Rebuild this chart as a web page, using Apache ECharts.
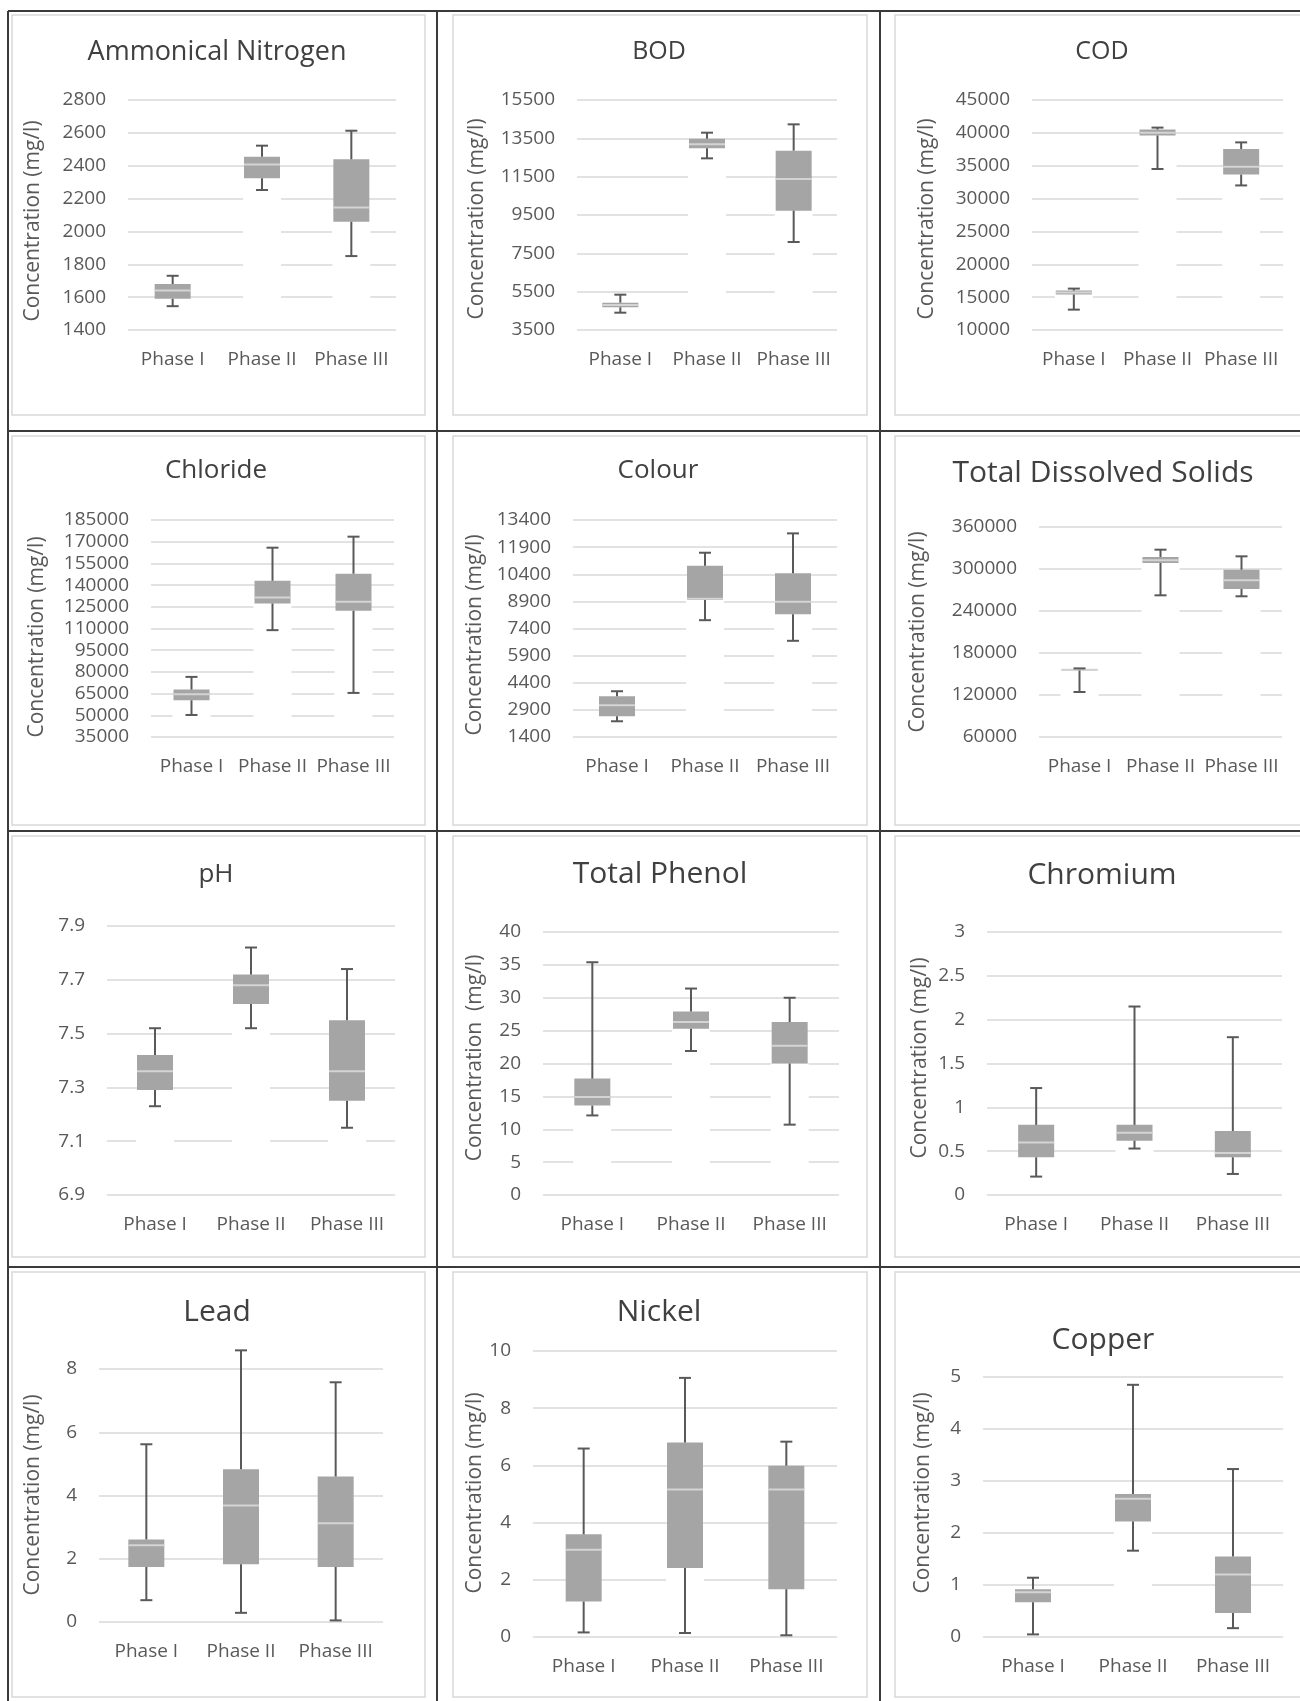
<!DOCTYPE html>
<html><head><meta charset="utf-8">
<script src="https://cdn.jsdelivr.net/npm/echarts@6/dist/echarts.min.js"></script>
<style>html,body{margin:0;padding:0;background:#fff}#chart{width:1300px;height:1701px}</style>
</head><body><div id="chart"></div>
<script>
// ---------------- DATA ----------------
const phases = ['Phase I', 'Phase II', 'Phase III'];
// each entry: [min, Q1, median, Q3, max] for Phase I, Phase II, Phase III
const ammonicalNitrogen = [[1545,1590,1640,1680,1730],[2252,2323,2408,2455,2522],[1850,2059,2145,2439,2613]];
const bod          = [[4404,4683,4804,4926,5343],[12456,12977,13186,13482,13795],[8091,9726,11378,12856,14230]];
const cod          = [[13100,15400,15700,16000,16300],[34500,39600,40000,40500,40800],[32000,33650,34850,37550,38550]];
const chloride     = [[50230,60390,64540,67770,76540],[108860,127320,131480,143000,165860],[65470,122250,128480,147860,173480]];
const colour       = [[2270,2545,3150,3650,3930],[7860,8970,9050,10870,11590],[6720,8190,8880,10450,12660]];
const tds          = [[124300,155000,156000,157000,158000],[262400,308600,312400,317200,327600],[261000,271400,283800,299000,318100]];
const ph           = [[7.23,7.29,7.36,7.42,7.52],[7.52,7.61,7.68,7.72,7.82],[7.15,7.25,7.36,7.55,7.74]];
const totalPhenol  = [[12.1,13.6,14.9,17.7,35.4],[21.9,25.3,26.3,27.9,31.4],[10.7,20.0,22.7,26.3,30.0]];
const chromium     = [[0.21,0.43,0.60,0.80,1.22],[0.53,0.62,0.71,0.80,2.15],[0.24,0.43,0.48,0.73,1.80]];
const lead         = [[0.69,1.74,2.43,2.61,5.62],[0.29,1.83,3.68,4.83,8.59],[0.05,1.74,3.12,4.60,7.58]];
const nickel       = [[0.16,1.24,3.05,3.59,6.59],[0.14,2.41,5.16,6.80,9.06],[0.06,1.67,5.16,5.99,6.83]];
const copper       = [[0.05,0.67,0.86,0.92,1.14],[1.66,2.22,2.66,2.75,4.85],[0.17,0.46,1.20,1.55,3.23]];

// y-axis ticks: [min, max, interval]
const ammonicalNitrogenTicks = [1400, 2800, 200];
const bodTicks         = [3500, 15500, 2000];
const codTicks         = [10000, 45000, 5000];
const chlorideTicks    = [35000, 185000, 15000];
const colourTicks      = [1400, 13400, 1500];
const tdsTicks         = [60000, 360000, 60000];
const phTicks          = [6.9, 7.9, 0.2];
const totalPhenolTicks = [0, 40, 5];
const chromiumTicks    = [0, 3, 0.5];
const leadTicks        = [0, 8, 2];
const nickelTicks      = [0, 10, 2];
const copperTicks      = [0, 5, 1];

const titles = ['Ammonical Nitrogen','BOD','COD','Chloride','Colour','Total Dissolved Solids','pH','Total Phenol','Chromium','Lead','Nickel','Copper'];
const yNames = ['Concentration (mg/l)','Concentration (mg/l)','Concentration (mg/l)','Concentration (mg/l)','Concentration (mg/l)','Concentration (mg/l)','','Concentration  (mg/l)','Concentration (mg/l)','Concentration (mg/l)','Concentration (mg/l)','Concentration (mg/l)'];

const seriesData = [ammonicalNitrogen,bod,cod,chloride,colour,tds,ph,totalPhenol,chromium,lead,nickel,copper];
const seriesTicks = [ammonicalNitrogenTicks,bodTicks,codTicks,chlorideTicks,colourTicks,tdsTicks,phTicks,totalPhenolTicks,chromiumTicks,leadTicks,nickelTicks,copperTicks];

// ---------------- LAYOUT ----------------
// grid: [left, top, width, height], title: [cx, cy, size], yName: [cx, cy]
const layout = [
  {grid:[128,100,268,230], title:[217,52,27], yName:[33,221]},
  {grid:[577,100,260,230], title:[659,52,25], yName:[477,219]},
  {grid:[1032,100,251,230], title:[1102,52,25], yName:[927,219]},
  {grid:[151,520,243,217], title:[216,471,26], yName:[37,637]},
  {grid:[573,520,264,217], title:[658,471,26], yName:[475,635]},
  {grid:[1039,527,243,210], title:[1103,473,30], yName:[918,632]},
  {grid:[107,926,288,269], title:[216,875,26], yName:[0,0]},
  {grid:[543,932,296,263], title:[660,874,30], yName:[475,1058]},
  {grid:[987,932,295,263], title:[1102,875,30], yName:[920,1058]},
  {grid:[99,1369,284,253], title:[217,1312,30], yName:[33,1495]},
  {grid:[533,1351,304,286], title:[659,1312,30], yName:[475,1493]},
  {grid:[983,1377,300,260], title:[1103,1340,30], yName:[923,1493]}
];

const FONT = '"Open Sans", "Noto Sans", sans-serif';
const LABEL_COLOR = '#595959';
const BOX_FILL = '#a5a5a5';
const MEDIAN_COLOR = '#d4d4d4';
const WHISKER_COLOR = '#595959';
const GRID_COLOR = '#d9d9d9';

function renderBox(params, api) {
  const idx = api.value(0);
  const cs = params.coordSys;
  const x = api.coord([idx, api.value(1)])[0];
  const yMin = api.coord([idx, api.value(1)])[1];
  const yQ1 = api.coord([idx, api.value(2)])[1];
  const yMed = api.coord([idx, api.value(3)])[1];
  const yQ3 = api.coord([idx, api.value(4)])[1];
  const yMax = api.coord([idx, api.value(5)])[1];
  const w = 36, cap = 12;
  const bottom = cs.y + cs.height - 1.5;
  const children = [];
  if (yQ1 < bottom) {
    children.push({type:'rect', shape:{x:x-w/2-1, y:yQ1, width:w+2, height:bottom-yQ1}, style:{fill:'#ffffff'}});
  }
  children.push({type:'rect', shape:{x:x-w/2, y:yMed, width:w, height:Math.max(yQ1-yMed,0.5)}, style:{fill:BOX_FILL}});
  children.push({type:'rect', shape:{x:x-w/2, y:yQ3, width:w, height:Math.max(yMed-yQ3,0.5)}, style:{fill:BOX_FILL}});
  children.push({type:'line', shape:{x1:x-w/2, y1:yMed, x2:x+w/2, y2:yMed}, style:{stroke:MEDIAN_COLOR, lineWidth:2}});
  // whiskers
  children.push({type:'line', shape:{x1:x, y1:yQ3, x2:x, y2:yMax}, style:{stroke:WHISKER_COLOR, lineWidth:2}});
  children.push({type:'line', shape:{x1:x-cap/2, y1:yMax, x2:x+cap/2, y2:yMax}, style:{stroke:WHISKER_COLOR, lineWidth:2}});
  children.push({type:'line', shape:{x1:x, y1:yQ1, x2:x, y2:yMin}, style:{stroke:WHISKER_COLOR, lineWidth:2}});
  children.push({type:'line', shape:{x1:x-cap/2, y1:yMin, x2:x+cap/2, y2:yMin}, style:{stroke:WHISKER_COLOR, lineWidth:2}});
  return {type:'group', children};
}

const grids = [], xAxes = [], yAxes = [], series = [], graphics = [];

// panel frames
const frameLine = (x1,y1,x2,y2) => ({type:'line', shape:{x1,y1,x2,y2}, style:{stroke:'#3a3a3a', lineWidth:2}, z:-1});
const colX = [[12,425],[453,867],[895,1306]];
const rowY = [[15,415],[436,825],[836,1257],[1272,1697]];
rowY.forEach(r => colX.forEach(c => {
  graphics.push({type:'rect', shape:{x:c[0], y:r[0], width:c[1]-c[0], height:r[1]-r[0]}, style:{fill:'none', stroke:'#d9d9d9', lineWidth:1.5}, z:-2});
}));
graphics.push(frameLine(8,11,1300,11));
graphics.push(frameLine(8,11,8,1701));
graphics.push(frameLine(437,11,437,1701));
graphics.push(frameLine(880,11,880,1701));
graphics.push(frameLine(8,431,1300,431));
graphics.push(frameLine(8,831,1300,831));
graphics.push(frameLine(8,1267,1300,1267));

const plainNumber = v => String(parseFloat(Number(v).toFixed(6)));

seriesData.forEach((d, i) => {
  const L = layout[i];
  const t = seriesTicks[i];
  grids.push({left:L.grid[0], top:L.grid[1], width:L.grid[2], height:L.grid[3], containLabel:false});
  xAxes.push({
    type:'category', gridIndex:i, data:phases, boundaryGap:true,
    axisLine:{show:false}, axisTick:{show:false},
    axisLabel:{color:LABEL_COLOR, fontFamily:FONT, fontSize:19, margin:20, interval:0}
  });
  yAxes.push({
    type:'value', gridIndex:i, min:t[0], max:t[1], interval:t[2],
    axisLine:{show:false}, axisTick:{show:false},
    axisLabel:{color:LABEL_COLOR, fontFamily:FONT, fontSize:19, margin:22, formatter:plainNumber},
    splitLine:{show:true, lineStyle:{color:GRID_COLOR, width:1.5}}
  });
  series.push({
    type:'custom', xAxisIndex:i, yAxisIndex:i, renderItem:renderBox, clip:false,
    encode:{x:0, y:[1,2,3,4,5]},
    data: d.map((v, k) => [k, v[0], v[1], v[2], v[3], v[4]]),
    silent:true, animation:false
  });
  graphics.push({type:'text', x:L.title[0], y:L.title[1],
    style:{text:titles[i], fill:'#404040', font:`${L.title[2]}px ${FONT}`, align:'center', verticalAlign:'middle'}});
  if (yNames[i]) {
    graphics.push({type:'text', x:L.yName[0], y:L.yName[1], rotation:Math.PI/2,
      style:{text:yNames[i], fill:LABEL_COLOR, font:`21px ${FONT}`, align:'center', verticalAlign:'middle'}});
  }
});

const chart = echarts.init(document.getElementById('chart'), null, {width:1300, height:1701});
chart.setOption({
  backgroundColor:'#ffffff',
  animation:false,
  grid:grids, xAxis:xAxes, yAxis:yAxes, series:series,
  graphic:{elements:graphics}
});
</script>
</body></html>
